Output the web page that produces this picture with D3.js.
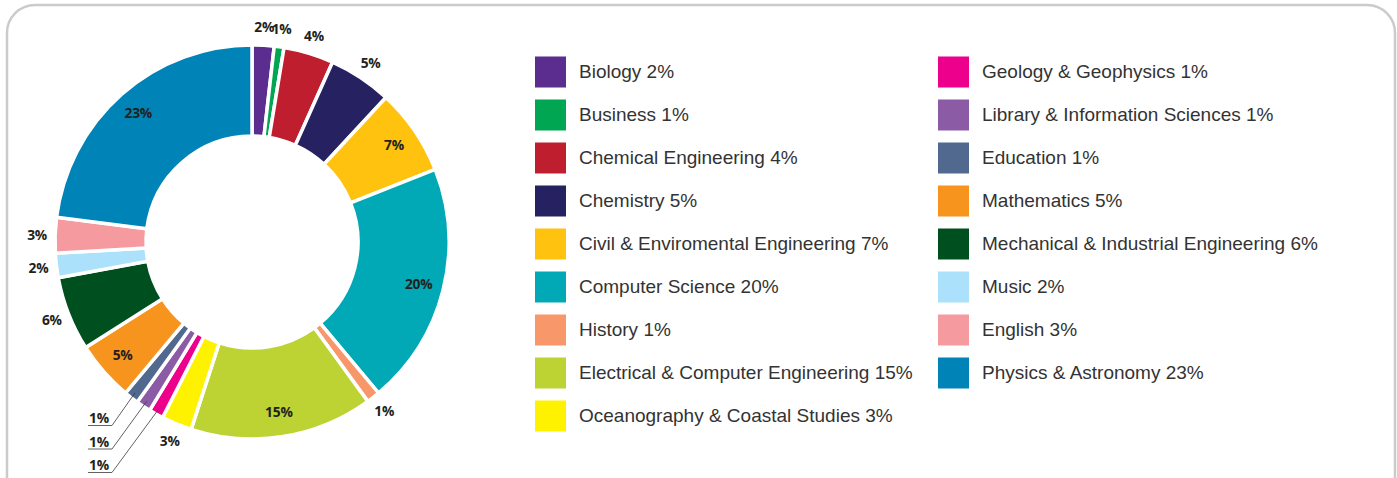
<!DOCTYPE html>
<html>
<head>
<meta charset="utf-8">
<script src="https://cdn.jsdelivr.net/npm/d3@7"></script>
<style>
  html, body { margin: 0; padding: 0; background: #fff; }
  svg { display: block; }
</style>
</head>
<body>
<div id="chart"></div>
<script>
// Departments, clockwise from 12 o'clock
const departments = [
    "Biology", "Business", "Chemical Engineering", "Chemistry",
    "Civil & Enviromental Engineering", "Computer Science", "History",
    "Electrical & Computer Engineering", "Oceanography & Coastal Studies",
    "Geology & Geophysics", "Library & Information Sciences", "Education",
    "Mathematics", "Mechanical & Industrial Engineering", "Music", "English",
    "Physics & Astronomy"
];
// shares (labels show them rounded)
const shares = [1.8, 0.8, 4.1, 5.2, 7.1, 19.9, 1.1, 15, 2.5, 1.2, 1.2, 1.2, 4.9, 6.1, 2, 2.9, 23];
const colors = [
    "#5b2d8e", "#00a651", "#be1e2d", "#262262", "#ffc20e", "#00a9b5", "#f7976a",
    "#bcd333", "#fff200", "#ec008c", "#8c5ba6", "#52698f", "#f7941d", "#00501f",
    "#abe1fa", "#f59a9f", "#0083b7"
];
// which slices carry their label inside the ring, and which use a leader line
const insideLabels = ["Civil & Enviromental Engineering", "Computer Science",
    "Electrical & Computer Engineering", "Mathematics", "Physics & Astronomy"];
const leaderLabels = ["Education", "Library & Information Sciences", "Geology & Geophysics"];

const width = 1397, height = 478;
const cx = 252, cy = 242, rOuter = 197, rInner = 106;

const svg = d3.select("#chart").append("svg")
    .attr("width", width)
    .attr("height", height);

// frame
svg.append("rect")
    .attr("x", 7).attr("y", 5)
    .attr("width", 1388).attr("height", 520)
    .attr("rx", 28).attr("ry", 28)
    .attr("fill", "none")
    .attr("stroke", "#cbcbcb")
    .attr("stroke-width", 2.5);

const data = departments.map((d, i) => ({ name: d, value: shares[i], color: colors[i] }));
const pct = d => Math.round(d.value) + "%";

const pie = d3.pie().sort(null).value(d => d.value);
const arcs = pie(data);

const arc = d3.arc().innerRadius(rInner).outerRadius(rOuter);
const g = svg.append("g").attr("transform", `translate(${cx},${cy})`);

g.selectAll("path.slice")
    .data(arcs)
    .join("path")
    .attr("class", "slice")
    .attr("d", arc)
    .attr("fill", d => d.data.color)
    .attr("stroke", "#fff")
    .attr("stroke-width", 3.5)
    .attr("stroke-linejoin", "miter");

function polar(a, r) {
    return [r * Math.sin(a), -r * Math.cos(a)];
}
const mid = d => (d.startAngle + d.endAngle) / 2;

const labelFont = "'Open Sans', 'DejaVu Sans', sans-serif";

// inside + plain outside labels
g.selectAll("text.plabel")
    .data(arcs.filter(d => !leaderLabels.includes(d.data.name)))
    .join("text")
    .attr("class", "plabel")
    .attr("x", d => polar(mid(d), insideLabels.includes(d.data.name) ? 172 : 215)[0])
    .attr("y", d => polar(mid(d), insideLabels.includes(d.data.name) ? 172 : 215)[1])
    .attr("dy", "0.36em")
    .attr("text-anchor", "middle")
    .style("font-family", labelFont)
    .style("font-weight", 700)
    .style("font-size", "13.8px")
    .style("letter-spacing", "-0.2px")
    .style("fill", "#231f20")
    .text(d => pct(d.data));

// leader-line labels, stacked below left
const leaderArcs = leaderLabels.map(n => arcs.find(a => a.data.name === n));
const lx = -163, ly0 = 181, lstep = 23.5;

leaderArcs.forEach((d, i) => {
    const yb = ly0 + i * lstep;
    const p = polar(mid(d), 191);
    g.append("text")
        .attr("x", lx + 10)
        .attr("y", yb)
        .attr("text-anchor", "middle")
        .style("font-family", labelFont)
        .style("font-weight", 700)
        .style("font-size", "13.8px")
        .style("letter-spacing", "-0.2px")
        .style("fill", "#231f20")
        .text(pct(d.data));
    g.append("polyline")
        .attr("points", [[lx - 1, yb + 2.5], [lx + 23, yb + 2.5], p].map(q => q.join(",")).join(" "))
        .attr("fill", "none")
        .attr("stroke", "#3a3a3a")
        .attr("stroke-width", 0.8);
});

// legend
const perColumn = 9;
const colX = [535, 938];
const rowY0 = 72, rowStep = 43, sw = 31;

const legend = svg.append("g")
    .selectAll("g.item")
    .data(data)
    .join("g")
    .attr("class", "item")
    .attr("transform", (d, i) => `translate(${colX[Math.floor(i / perColumn)]},${rowY0 + (i % perColumn) * rowStep})`);

legend.append("rect")
    .attr("x", 0).attr("y", -sw / 2)
    .attr("width", sw).attr("height", sw)
    .attr("fill", d => d.color);

legend.append("text")
    .attr("x", 44)
    .attr("y", 6.2)
    .style("font-family", "'Liberation Sans', Arial, sans-serif")
    .style("font-size", "19px")
    .style("fill", "#333")
    .text(d => `${d.name} ${pct(d)}`);
</script>
</body>
</html>
